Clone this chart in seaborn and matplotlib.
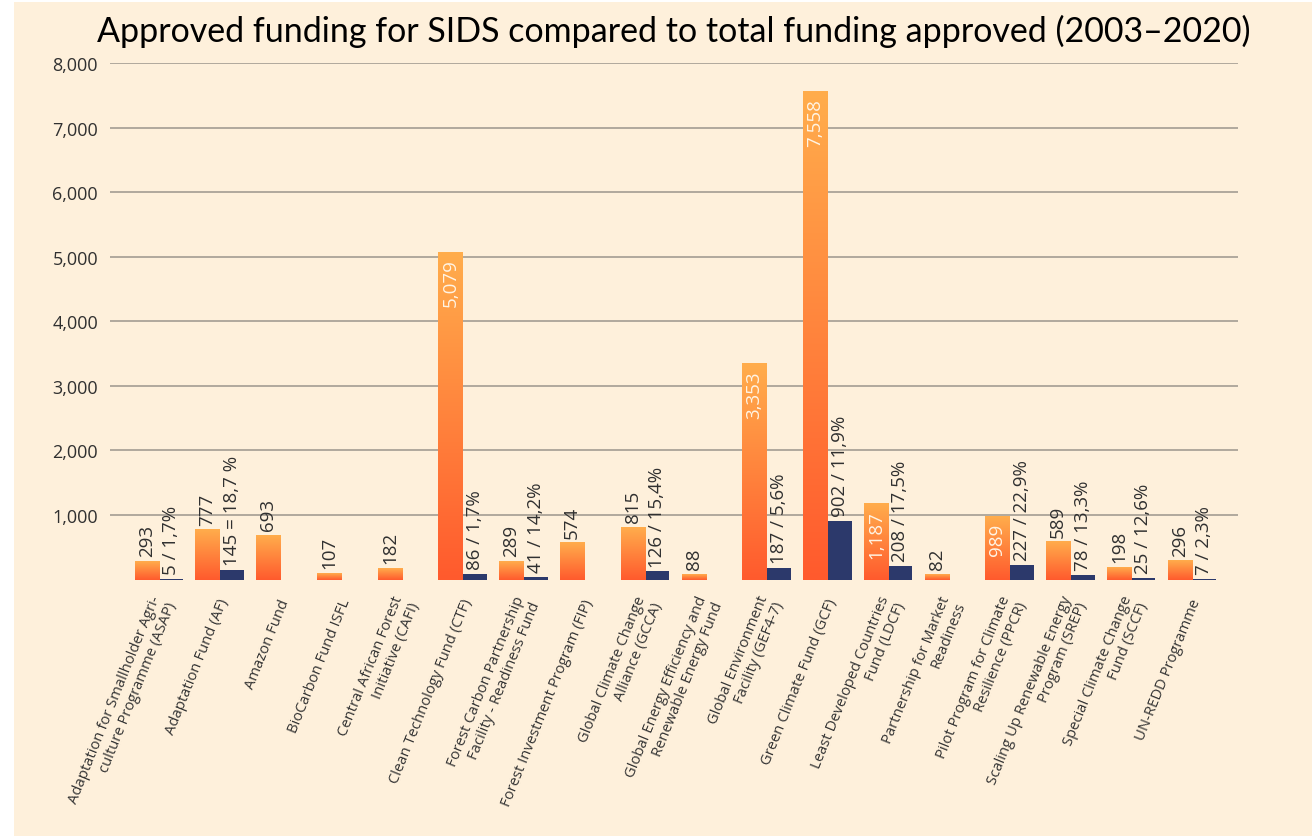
import numpy as np
import pandas as pd
import matplotlib
matplotlib.use("Agg")
import matplotlib.pyplot as plt
import seaborn as sns
from matplotlib.colors import LinearSegmentedColormap
from matplotlib.transforms import ScaledTranslation
from matplotlib.patches import Rectangle

# ---------------- data ----------------
categories = [
    "Adaptation for Smallholder Agri-\nculture Programme (ASAP)",
    "Adaptation Fund (AF)",
    "Amazon Fund",
    "BioCarbon Fund ISFL",
    "Central African Forest\nInitiative (CAFI)",
    "Clean Technology Fund (CTF)",
    "Forest Carbon Partnership\nFacility - Readiness Fund",
    "Forest Investment Program (FIP)",
    "Global Climate Change\nAlliance (GCCA)",
    "Global Energy Efficiency and\nRenewable Energy Fund",
    "Global Environment\nFacility (GEF4-7)",
    "Green Climate Fund (GCF)",
    "Least Developed Countries\nFund (LDCF)",
    "Partnership for Market\nReadiness",
    "Pilot Program for Climate\nResilience (PPCR)",
    "Scaling Up Renewable Energy\nProgram (SREP)",
    "Special Climate Change\nFund (SCCF)",
    "UN-REDD Programme",
]
total_values = [293, 777, 693, 107, 182, 5079, 289, 574, 815, 88,
                3353, 7558, 1187, 82, 989, 589, 198, 296]
sids_values = [5, 145, np.nan, np.nan, np.nan, 86, 41, np.nan, 126, np.nan,
               187, 902, 208, np.nan, 227, 78, 25, 7]
total_labels = ["293", "777", "693", "107", "182", "5,079", "289", "574", "815", "88",
                "3,353", "7,558", "1,187", "82", "989", "589", "198", "296"]
sids_labels = ["5 / 1,7%", "145 = 18,7 %", "", "", "", "86 / 1,7%", "41 / 14,2%", "",
               "126 / 15,4%", "", "187 / 5,6%", "902 / 11,9%", "208 / 17,5%", "",
               "227 / 22,9%", "78 / 13,3%", "25 / 12,6%", "7 / 2,3%"]
series_names = ["Total", "SIDS"]
yticks = [1000, 2000, 3000, 4000, 5000, 6000, 7000, 8000]
ytick_labels = ["1,000", "2,000", "3,000", "4,000", "5,000", "6,000", "7,000", "8,000"]
title = "Approved funding for SIDS compared to total funding approved (2003\u20132020)"

# ---------------- style ----------------
CREAM = "#FEF0DB"
ORANGE_TOP = "#FFAD4C"
ORANGE_BOTTOM = "#FF5A2D"
NAVY = "#2C396B"
GRID = "#AAA398"
TEXT = "#303030"
INSIDE_TEXT = "#FFF4E4"

sns.set_theme(style="white")
plt.rcParams["font.family"] = ["Open Sans", "DejaVu Sans"]

W, H = 1312, 837
fig = plt.figure(figsize=(W / 100, H / 100), dpi=100, facecolor="white")
fig.patches.append(Rectangle((14 / W, 0), 1, 1 - 3 / H, transform=fig.transFigure,
                             facecolor=CREAM, edgecolor="none", zorder=-10))

ax_left, ax_right = 110, 1238
ax_top, ax_bottom = 64, 580.6
ax = fig.add_axes([ax_left / W, 1 - ax_bottom / H, (ax_right - ax_left) / W,
                   (ax_bottom - ax_top) / H])
ax.set_facecolor("none")

n = len(categories)
df = pd.DataFrame({
    "category": categories * 2,
    "series": [series_names[0]] * n + [series_names[1]] * n,
    "value": total_values + sids_values,
})

sns.barplot(data=df, x="category", y="value", hue="series", order=categories,
            hue_order=series_names,
            palette={series_names[0]: ORANGE_TOP, series_names[1]: NAVY},
            saturation=1, width=0.8, legend=False, errorbar=None, ax=ax,
            linewidth=0)

spacing = 60.76
x0px = 159
xlim = ((ax_left - x0px) / spacing, (ax_right - x0px) / spacing)
ylim = (0, 8000)

# gradient fill for the total bars
cmap = LinearSegmentedColormap.from_list("og", [ORANGE_BOTTOM, ORANGE_TOP])
grad = np.linspace(1, 0, 256).reshape(-1, 1)
for p in ax.containers[0]:
    h = p.get_height()
    if not h > 0:
        continue
    x = p.get_x()
    w = p.get_width()
    ax.imshow(grad, extent=[x, x + w, 0, h], origin="upper", aspect="auto",
              cmap=cmap, vmin=0, vmax=1, zorder=p.get_zorder(),
              interpolation="bilinear")
    p.set_facecolor("none")

ax.set_aspect("auto")
ax.set_xlim(*xlim)
ax.set_ylim(*ylim)

# value labels
for p in ax.containers[0]:
    h = p.get_height()
    if not h > 0:
        continue
    cx = p.get_x() + p.get_width() / 2
    i = int(round(cx))
    if total_values[i] >= 900:
        ax.annotate(total_labels[i], xy=(cx, h), xytext=(0, -5), textcoords="offset points",
                    rotation=90, rotation_mode="anchor", ha="right", va="center",
                    fontsize=13.5, color=INSIDE_TEXT, zorder=5)
    else:
        ax.annotate(total_labels[i], xy=(cx, h), xytext=(0, 3.5), textcoords="offset points",
                    rotation=90, rotation_mode="anchor", ha="left", va="center",
                    fontsize=13.5, color=TEXT, zorder=5)
for p in ax.containers[1]:
    h = p.get_height()
    if not h >= 0:
        continue
    cx = p.get_x() + p.get_width() / 2
    i = int(round(cx))
    if not sids_labels[i]:
        continue
    ax.annotate(sids_labels[i], xy=(cx, h), xytext=(0, 3.5), textcoords="offset points",
                rotation=90, rotation_mode="anchor", ha="left", va="center",
                fontsize=13.5, color=TEXT, zorder=5)

# axes styling
for s in ax.spines.values():
    s.set_visible(False)
ax.set_yticks(yticks)
ax.set_yticklabels(ytick_labels, fontsize=13, color=TEXT)
ax.tick_params(axis="y", length=0, pad=8.6)
ax.yaxis.grid(True, color=GRID, linewidth=1.3)
ax.xaxis.grid(False)
ax.set_axisbelow(True)
ax.set_xlabel("")
ax.set_ylabel("")

ax.set_xticks(range(n))
ax.set_xticklabels(categories, rotation=68, ha="right", va="center",
                   rotation_mode="anchor", fontsize=10.6, color="#333333")
ax.tick_params(axis="x", length=0, pad=14)
offset = ScaledTranslation(5 / 100, 0, fig.dpi_scale_trans)
for lbl in ax.get_xticklabels():
    lbl.set_transform(lbl.get_transform() + offset)

# title, scaled to the reference width
t = fig.text((97 + 1250) / 2 / W, 1 - 31 / H, title, ha="center", va="center",
             fontsize=22, color="black", family=["Lato", "DejaVu Sans"])
fig.canvas.draw()
bb = t.get_window_extent(renderer=fig.canvas.get_renderer())
t.set_fontsize(22 * 1153 / bb.width)

fig.savefig("out.png", dpi=100, facecolor="white")
